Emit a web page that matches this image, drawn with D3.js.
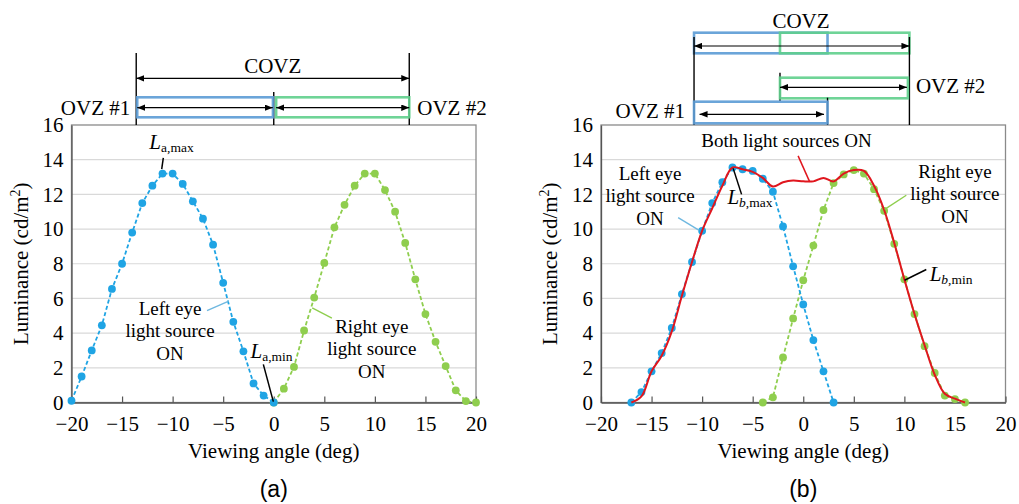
<!DOCTYPE html>
<html><head><meta charset="utf-8">
<script src="https://cdn.jsdelivr.net/npm/d3@7"></script>
<style>body{margin:0;background:#fff}svg{display:block}</style>
</head><body><svg id="c" width="1019" height="504"></svg>
<script>
// ---------------- data ----------------
const xTicks = [-20, -15, -10, -5, 0, 5, 10, 15, 20];
const yTicks = [0, 2, 4, 6, 8, 10, 12, 14, 16];

// (a) left eye light source ON
const aLeftX = [-20,-19,-18,-17,-16,-15,-14,-13,-12,-11,-10,-9,-8,-7,-6,-5,-4,-3,-2,-1,0];
const aLeftY = [0.1,1.5,3.0,4.45,6.55,8.0,9.8,11.5,12.5,13.2,13.2,12.6,11.6,10.6,9.1,6.9,4.65,2.95,1.1,0.4,0];
// (a) right eye light source ON
const aRightX = [0,1,2,3,4,5,6,7,8,9,10,11,12,13,14,15,16,17,18,19,20];
const aRightY = [0,0.8,2.05,4.15,6.05,8.05,10.1,11.4,12.5,13.2,13.2,12.25,11.0,9.2,7.1,5.1,3.5,2.1,0.7,0.08,0];

// (b) left eye light source ON
const bLeftX = [-17,-16,-15,-14,-13,-12,-11,-10,-9,-8,-7,-6,-5,-4,-3,-2,-1,0,1,2,3];
const bLeftY = [0,0.6,1.8,2.85,4.3,6.25,8.1,9.9,11.5,12.7,13.55,13.45,13.35,12.9,12.15,10.15,7.85,5.65,3.6,1.8,0];
// (b) right eye light source ON
const bRightX = [-4,-3,-2,-1,0,1,2,3,4,5,6,7,8,9,10,11,12,13,14,15,16];
const bRightY = [0,0.3,2.6,4.85,7.05,9.05,11.1,12.65,13.15,13.4,13.2,12.3,11.05,9.15,7.1,5.1,3.25,1.7,0.4,0.2,0];
// (b) both light sources ON
const bBothX = [-17,-16,-15,-14,-13,-12,-11,-10,-9,-8,-7,-6,-5,-4,-3,-2,-1,0,1,2,3,4,5,6,7,8,9,10,11,12,13,14,15,16];
const bBothY = [0,0.35,1.8,2.7,4.1,6.15,8.1,9.9,11.2,12.5,13.55,13.45,13.3,12.95,12.45,12.7,12.8,12.75,12.75,12.95,12.75,13.2,13.4,13.35,12.5,11.1,9.2,7.1,5.1,3.3,1.6,0.5,0.22,0];

// viewing zones (deg)
const aOVZ1 = [-13.6, 0];
const aOVZ2 = [0, 13.4];
const bOVZ1 = [-10.8, 2.4];
const bOVZ2 = [-2.3, 10.35];

// ---------------- drawing ----------------
const serif = "'Liberation Serif','Times New Roman',serif";
const sans = "'Liberation Sans',Arial,sans-serif";
const C = {blue:"#1fa4e4", green:"#8fce4e", red:"#e0161e", rblue:"#5b9bd5", rgreen:"#5fcf8c",
           grid:"#d9d9d9", frame:"#8a8a8a"};
const svg = d3.select("#c");
const defs = svg.append("defs");
defs.append("marker").attr("id","ah").attr("viewBox","0 0 10 8").attr("refX",10).attr("refY",4)
  .attr("markerWidth",8).attr("markerHeight",6.4).attr("markerUnits","userSpaceOnUse")
  .attr("orient","auto-start-reverse")
  .append("path").attr("d","M0,0L10,4L0,8Z").attr("fill","#000");

const PW = 404.5, PT = 125, PB = 402.5;

function panel(left) {
  const x = d3.scaleLinear().domain([-20,20]).range([left, left+PW]);
  const y = d3.scaleLinear().domain([0,16]).range([PB, PT]);
  const g = svg.append("g");
  g.selectAll("line.grid").data(yTicks.filter(v => v > 0 && v < 16)).join("line")
    .attr("x1", x(-20)).attr("x2", x(20)).attr("y1", d => y(d)).attr("y2", d => y(d))
    .attr("stroke", C.grid).attr("stroke-width", 1.2);
  g.append("rect").attr("x", x(-20)).attr("y", y(16)).attr("width", x(20)-x(-20))
    .attr("height", y(0)-y(16)).attr("fill","none").attr("stroke", C.frame).attr("stroke-width",1.3);
  const xa = g.append("g").attr("transform",`translate(0,${PB})`)
    .call(d3.axisBottom(x).tickValues(xTicks).tickSize(-6).tickSizeOuter(0).tickPadding(13.5).tickFormat(d3.format("d")));
  xa.select(".domain").attr("stroke","#555").attr("stroke-width",1.3);
  xa.selectAll(".tick line").attr("stroke","#555").attr("stroke-width",1.2);
  const ya = g.append("g").attr("transform",`translate(${left},0)`)
    .call(d3.axisLeft(y).tickValues(yTicks).tickSize(0).tickPadding(8).tickFormat(d3.format("d")));
  ya.select(".domain").attr("stroke","#555").attr("stroke-width",1.3);
  g.selectAll(".tick text").attr("font-family", serif).attr("font-size", 21).attr("fill","#000");
  // axis titles
  g.append("text").attr("x", (x(-20)+x(20))/2).attr("y", 458).attr("text-anchor","middle")
    .attr("font-family", serif).attr("font-size", 21).text("Viewing angle (deg)");
  const yl = g.append("text").attr("transform",`translate(${left-44},${(PT+PB)/2}) rotate(-90)`)
    .attr("text-anchor","middle").attr("font-family", serif).attr("font-size", 21);
  yl.append("tspan").text("Luminance (cd/m");
  yl.append("tspan").attr("dy",-8).attr("font-size",14).text("2");
  yl.append("tspan").attr("dy",8).text(")");
  return {g, x, y};
}

function series(p, xs, ys, color) {
  const pts = xs.map((v,i) => [v, ys[i]]);
  p.g.append("path").datum(pts)
    .attr("d", d3.line().x(d => p.x(d[0])).y(d => p.y(d[1])))
    .attr("fill","none").attr("stroke", color).attr("stroke-width",1.8).attr("stroke-dasharray","4,2.5");
  p.g.selectAll(null).data(pts).join("circle")
    .attr("cx", d => p.x(d[0])).attr("cy", d => p.y(d[1])).attr("r", 3.9).attr("fill", color);
}

function label(g, cx, by, lines, size) {
  const t = g.append("text").attr("text-anchor","middle").attr("font-family", serif).attr("font-size", size||19);
  lines.forEach((s,i) => t.append("tspan").attr("x", cx).attr("y", by + i*22.5).text(s));
}
function leader(g, x1, y1, x2, y2, color, w) {
  g.append("line").attr("x1",x1).attr("y1",y1).attr("x2",x2).attr("y2",y2)
    .attr("stroke", color).attr("stroke-width", w||1.5);
}
function Llabel(g, x0, by, sub, italicSub) {
  const t = g.append("text").attr("x", x0).attr("y", by).attr("font-family", serif).attr("font-size", 21);
  t.append("tspan").attr("font-style","italic").text("L");
  const s = t.append("tspan").attr("dy", 3).attr("font-size", 13.5);
  s.append("tspan").attr("font-style", italicSub ? "italic" : "normal").text(sub[0]);
  s.append("tspan").text(sub.slice(1));
}
function vline(g, xp, y1, y2) { leader(g, xp, y1, xp, y2, "#000", 1.4); }
function arrow(g, x1, x2, yp) {
  g.append("line").attr("x1",x1).attr("x2",x2).attr("y1",yp).attr("y2",yp)
    .attr("stroke","#000").attr("stroke-width",1.2)
    .attr("marker-start","url(#ah)").attr("marker-end","url(#ah)");
}
function zrect(g, x1, x2, y1, y2, color) {
  g.append("rect").attr("x",x1).attr("y",y1).attr("width",x2-x1).attr("height",y2-y1)
    .attr("fill","none").attr("stroke",color).attr("stroke-width",2.6).attr("stroke-opacity",0.9);
}
function txt(g, xp, yp, s, anchor) {
  g.append("text").attr("x",xp).attr("y",yp).attr("text-anchor",anchor||"start")
    .attr("font-family", serif).attr("font-size", 21).text(s);
}

// ---------- panel (a) ----------
const pa = panel(71.5);
series(pa, aRightX, aRightY, C.green);
series(pa, aLeftX, aLeftY, C.blue);
{
  const {g, x, y} = pa;
  // viewing zones
  const xl = x(aOVZ1[0]), xm = x(aOVZ1[1]), xr = x(aOVZ2[1]);
  vline(g, xl, 53, PT); vline(g, xr, 53, PT); vline(g, xm, 92, PT);
  arrow(g, xl, xr, 78.3);
  txt(g, (xl+xr)/2, 73, "COVZ", "middle");
  zrect(g, xl+1, xm-0.8, 97.3, 117.3, C.rblue);
  zrect(g, xm+2.4, xr, 97.3, 117.3, C.rgreen);
  arrow(g, xl+1, xm-1, 107.7);
  arrow(g, xm+2.4, xr, 107.7);
  txt(g, xl-6, 115, "OVZ #1", "end");
  txt(g, xr+8, 115, "OVZ #2", "start");
  // annotations
  Llabel(g, x(-12.3), y(14.6), "a,max", false);
  leader(g, x(-10.92), y(14.1), x(-11.08), y(13.45), "#000", 1.5);
  label(g, x(-10.25), y(5.05), ["Left eye","light source","ON"]);
  leader(g, x(-6.6), y(5.3), x(-4.45), y(5.85), "#6fb8e0", 1.4);
  Llabel(g, x(-2.3), y(2.58), "a,min", false);
  leader(g, x(-1.03), y(2.2), x(-0.04), y(0.05), "#000", 1.5);
  label(g, x(9.7), y(4.02), ["Right eye","light source","ON"]);
  leader(g, x(3.8), y(5.45), x(5.75), y(4.87), C.green, 1.4);
  g.append("text").attr("x", (x(-20)+x(20))/2).attr("y", 497).attr("text-anchor","middle")
    .attr("font-family", sans).attr("font-size", 23).text("(a)");
}

// ---------- panel (b) ----------
const pb = panel(601);
series(pb, bRightX, bRightY, C.green);
series(pb, bLeftX, bLeftY, C.blue);
{
  const {g, x, y} = pb;
  const pts = bBothX.map((v,i) => [v, bBothY[i]]);
  g.append("path").datum(pts)
    .attr("d", d3.line().curve(d3.curveCatmullRom.alpha(0.5)).x(d => x(d[0])).y(d => y(d[1])))
    .attr("fill","none").attr("stroke", C.red).attr("stroke-width", 2);
  // viewing zones
  const l1 = x(bOVZ1[0]), r1 = x(bOVZ1[1]), l2 = x(bOVZ2[0]), r2 = x(bOVZ2[1]);
  zrect(g, l1, r1, 32.7, 53.3, C.rblue);
  zrect(g, l2, r2+1.5, 32.7, 53.3, C.rgreen);
  vline(g, l1, 37, PT); vline(g, r2+1.5, 37, PT);
  arrow(g, l1, r2+1.5, 46);
  txt(g, (l1+r2)/2, 28.3, "COVZ", "middle");
  vline(g, l2, 72.7, 101);
  zrect(g, l2, r2, 77.7, 98.3, C.rgreen);
  arrow(g, l2, r2-1, 87.3);
  txt(g, r2+8, 93, "OVZ #2", "start");
  vline(g, r1, 97.7, PT);
  zrect(g, l1, r1, 101.7, 123.3, C.rblue);
  arrow(g, l1+5.5, r1-3.5, 114.3);
  txt(g, l1-9, 118, "OVZ #1", "end");
  // annotations
  label(g, x(-1.66), y(14.73), ["Both light sources ON"]);
  leader(g, x(-0.51), y(14.22), x(0.64), y(12.72), C.red, 1.5);
  label(g, x(-15.15), y(12.85), ["Left eye","light source","ON"]);
  leader(g, x(-12.37), y(10.66), x(-10.29), y(9.92), "#6fb8e0", 1.4);
  Llabel(g, x(-7.5), y(11.47), "b,max", true);
  leader(g, x(-6.93), y(13.5), x(-6.1), y(12.0), "#000", 1.5);
  label(g, x(15.0), y(12.95), ["Right eye","light source","ON"]);
  leader(g, x(8.05), y(11.14), x(10.19), y(11.95), C.green, 1.4);
  Llabel(g, x(12.5), y(7.03), "b,min", true);
  leader(g, x(10.02), y(7.05), x(12.17), y(7.67), "#000", 1.5);
  g.append("text").attr("x", (x(-20)+x(20))/2).attr("y", 497).attr("text-anchor","middle")
    .attr("font-family", sans).attr("font-size", 23).text("(b)");
}
</script></body></html>
